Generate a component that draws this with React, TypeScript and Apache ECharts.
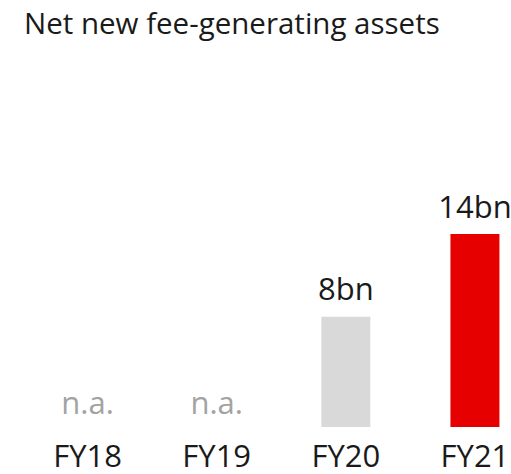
import React, { useEffect, useRef } from "react";
import * as echarts from "echarts";

const categories = ["FY18", "FY19", "FY20", "FY21"];
const values: (number | null)[] = [null, null, 8, 14];
const barColors = ["#d9d9d9", "#d9d9d9", "#d9d9d9", "#e60000"];
const titleText = "Net new fee-generating assets";
const naText = "n.a.";

const FONT = "'Open Sans', 'Noto Sans', sans-serif";

export default function App() {
  const ref = useRef<HTMLDivElement>(null);
  useEffect(() => {
    if (!ref.current) return;
    const chart = echarts.init(ref.current, null, { renderer: "svg" });
    const data = values.map((v, i) =>
      v === null
        ? {
            value: 0,
            label: { formatter: naText, color: "#a3a3a3", distance: 10 },
          }
        : { value: v, itemStyle: { color: barColors[i] } }
    );
    chart.setOption({
      animation: false,
      textStyle: { fontFamily: FONT },
      title: {
        text: titleText,
        left: 19,
        top: 2,
        textStyle: {
          fontFamily: FONT,
          fontSize: 29.5,
          fontWeight: "normal",
          color: "#1a1a1a",
        },
      },
      grid: {
        left: 23,
        right: -28.5,
        top: 234,
        bottom: 47,
        outerBoundsMode: "none",
        containLabel: false,
      },
      xAxis: {
        type: "category",
        data: categories,
        boundaryGap: true,
        axisLine: { show: false },
        axisTick: { show: false },
        axisLabel: {
          fontFamily: FONT,
          fontSize: 31,
          color: "#1a1a1a",
          margin: 12,
        },
      },
      yAxis: {
        type: "value",
        min: 0,
        max: 14,
        show: false,
        splitLine: { show: false },
      },
      series: [
        {
          type: "bar",
          data,
          barWidth: 49,
          label: {
            show: true,
            position: "top",
            formatter: "{c}bn",
            fontFamily: FONT,
            fontSize: 31,
            color: "#1a1a1a",
            distance: 13,
          },
        },
      ],
    });
    return () => chart.dispose();
  }, []);
  return (
    <div
      ref={ref}
      style={{ position: "fixed", left: 0, top: 0, width: 511, height: 474, background: "#fff" }}
    />
  );
}
